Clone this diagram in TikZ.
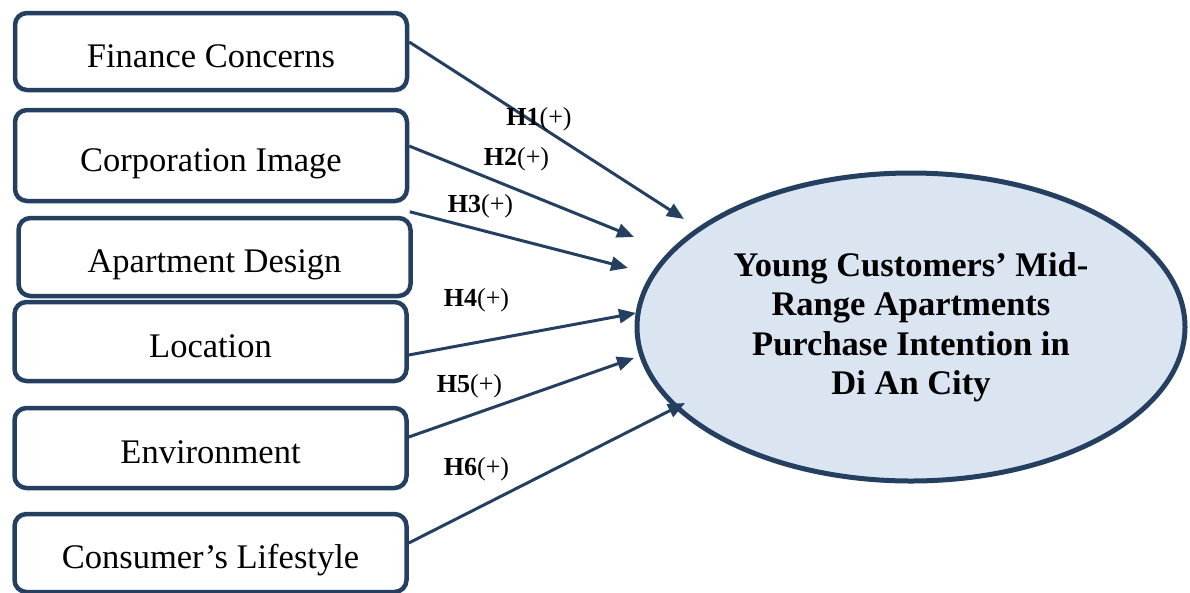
\documentclass[tikz,border=0pt]{standalone}
\usepackage{fontspec}
\setmainfont{Liberation Serif}
\usepackage{tikz}
\usetikzlibrary{shapes.geometric, arrows.meta}

\definecolor{navy}{HTML}{243F60}
\definecolor{paleblue}{HTML}{DBE5F1}

\begin{document}
\begin{tikzpicture}[x=1pt, y=-1pt,
    factor/.style={draw=navy, line width=4.5pt, rounded corners=12pt, fill=white,
      minimum width=392pt, inner sep=0pt, text height=31pt, text depth=0pt,
      font=\fontsize{34.5}{40}\selectfont},
    intent/.style={ellipse, draw=navy, line width=5pt, fill=paleblue,
      minimum width=548pt, minimum height=308pt, inner sep=0pt, align=center,
      font=\bfseries\fontsize{34.5}{39.5}\selectfont},
    hyp/.style={draw=navy, line width=3pt, -{Triangle[length=17pt,width=14pt]}},
    hlabel/.style={inner sep=0pt, font=\fontsize{26}{30}\selectfont}]
      \useasboundingbox (0,0) rectangle (1190,592);
      % factors
      \node[factor, minimum height=77pt] (fin) at (211,51.5) {Finance Concerns};
      \node[factor, minimum height=91pt] (corp) at (211,155.5) {Corporation Image};
      \node[factor, minimum height=78pt] (des) at (214.5,257) {Apartment Design};
      \node[factor, minimum height=79pt] (loc) at (210.5,341.5) {Location};
      \node[factor, minimum height=80pt] (env) at (210.5,448) {Environment};
      \node[factor, minimum height=78pt] (life) at (210.5,553) {Consumer’s Lifestyle};
      % outcome
      \node[intent] (pi) at (911,327) {Young Customers’ Mid-\\Range Apartments\\Purchase Intention in\\Di An City};
      \coordinate (e1) at (684,219);
      \coordinate (e2) at (634,237);
      \coordinate (e3) at (628,268);
      \coordinate (e4) at (636,313);
      \coordinate (e5) at (634,358);
      \coordinate (e6) at (685,403);
      \draw[hyp] ([yshift=9.5pt]fin.east) -- (e1);
      \draw[hyp] ([yshift=9.5pt]corp.east) -- (e2);
      \draw[hyp] ([xshift=-3pt,yshift=4pt]des.north east) -- (e3);
      \draw[hyp] ([yshift=-13.5pt]loc.east) -- (e4);
      \draw[hyp] ([yshift=11pt]env.east) -- (e5);
      \draw[hyp] ([yshift=10pt]life.east) -- (e6);
      \node[hlabel] (h1) at (539,119.5) {\textbf{H1}(+)};
      \node[hlabel] (h2) at (516.5,159.5) {\textbf{H2}(+)};
      \node[hlabel] (h3) at (480.5,206) {\textbf{H3}(+)};
      \node[hlabel] (h4) at (476.5,300) {\textbf{H4}(+)};
      \node[hlabel] (h5) at (469.5,386) {\textbf{H5}(+)};
      \node[hlabel] (h6) at (476.5,469.5) {\textbf{H6}(+)};
\end{tikzpicture}
\end{document}
